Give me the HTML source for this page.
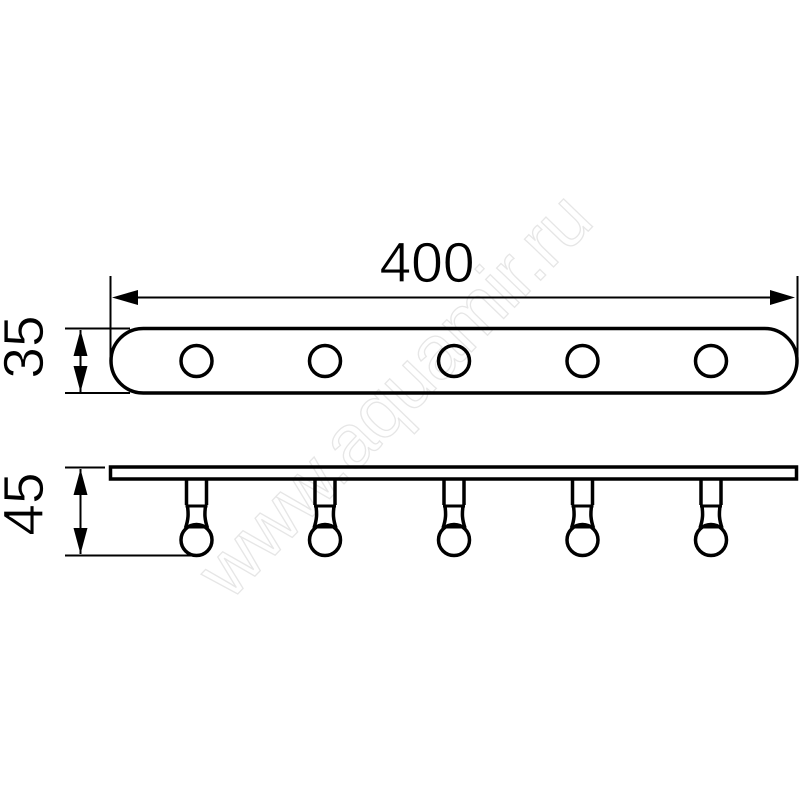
<!DOCTYPE html>
<html>
<head>
<meta charset="utf-8">
<style>
html,body{margin:0;padding:0;background:#fff;width:800px;height:800px;overflow:hidden}
svg{display:block}
text{font-family:"Liberation Sans",sans-serif}
</style>
</head>
<body>
<svg width="800" height="800" viewBox="0 0 800 800" xmlns="http://www.w3.org/2000/svg">
<defs>
<g id="hook" fill="none" stroke="#000">
  <path d="M-10 480V505M10 480V505" stroke-width="3.5"/>
  <path d="M-11 506H11" stroke-width="3"/>
  <path d="M-9 506C-8 514 -8 519 -11 528M9 506C8 514 8 519 11 528" stroke-width="3.5"/>
  <path d="M-10 527H10" stroke-width="3"/>
  <circle cx="0" cy="540" r="15.5" stroke-width="3.5"/>
</g>
</defs>

<rect width="800" height="800" fill="#fff"/>

<text transform="translate(230,602) rotate(-46)" font-size="76" textLength="527" fill="#fff" stroke="#e6e6e6" stroke-width="1.3">www.aquamir.ru</text>

<!-- Top view dimension 400 -->
<text x="427" y="282" font-size="57" text-anchor="middle" fill="#000" stroke="#fff" stroke-width="0.8">400</text>
<path d="M110.500 276V360M797.500 276V360" stroke="#000" stroke-width="2" fill="none"/>
<path d="M135 297.500H772" stroke="#000" stroke-width="2"/>
<path d="M112 297.500L138 290V305Z" fill="#000"/>
<path d="M795 297.500L770 290V305Z" fill="#000"/>

<!-- Top plate -->
<path d="M65 328.500H130M65 393H130" stroke="#000" stroke-width="2" fill="none"/>
<rect x="111" y="328.500" width="686" height="64.500" rx="32.250" ry="32.250" fill="none" stroke="#000" stroke-width="3.500"/>
<g fill="none" stroke="#000" stroke-width="3.500">
<circle cx="196.500" cy="361" r="15.500"/>
<circle cx="325" cy="361" r="15.500"/>
<circle cx="454" cy="361" r="15.500"/>
<circle cx="582.500" cy="361" r="15.500"/>
<circle cx="711" cy="361" r="15.500"/>
</g>

<!-- 35 -->
<text transform="translate(43,347) rotate(-90)" font-size="57" text-anchor="middle" fill="#000" stroke="#fff" stroke-width="0.8">35</text>
<path d="M80.500 330V392" stroke="#000" stroke-width="2"/>
<path d="M80.500 330L73.500 356H87.500Z" fill="#000"/>
<path d="M80.500 392L73.500 366H87.500Z" fill="#000"/>

<!-- Side view -->
<path d="M65 467.500H105M65 555.500H197" stroke="#000" stroke-width="2" fill="none"/>
<rect x="110.500" y="467" width="686" height="12" fill="none" stroke="#000" stroke-width="3.500"/>
<use href="#hook" x="196.500"/>
<use href="#hook" x="325"/>
<use href="#hook" x="454"/>
<use href="#hook" x="582.500"/>
<use href="#hook" x="711"/>

<!-- 45 -->
<text transform="translate(43,504) rotate(-90)" font-size="57" text-anchor="middle" fill="#000" stroke="#fff" stroke-width="0.8">45</text>
<path d="M80.500 469V554" stroke="#000" stroke-width="2"/>
<path d="M80.500 469L73.500 495H87.500Z" fill="#000"/>
<path d="M80.500 554L73.500 528H87.500Z" fill="#000"/>
</svg>
</body>
</html>
